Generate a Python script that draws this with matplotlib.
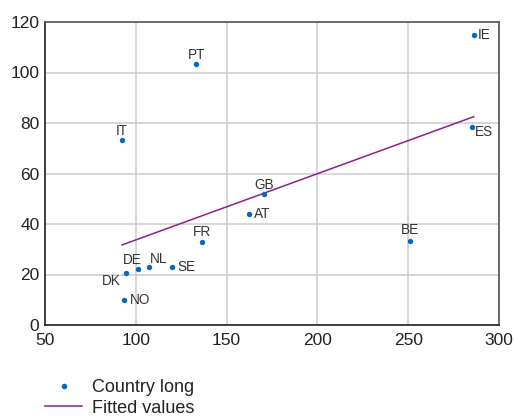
import matplotlib
matplotlib.use("Agg")
import matplotlib.pyplot as plt
from matplotlib.lines import Line2D

plt.rcParams['font.family'] = ['Liberation Sans', 'DejaVu Sans']

countries = ["IE", "PT", "IT", "ES", "GB", "AT", "FR", "BE", "DE", "NL", "SE", "DK", "NO"]
x_vals = [286.1, 133.3, 92.4, 285.0, 170.8, 162.5, 136.6, 250.8, 101.2, 107.3, 119.9, 94.4, 93.5]
y_vals = [114.9, 103.5, 73.4, 78.4, 52.0, 43.8, 33.0, 33.4, 22.2, 23.0, 22.8, 20.5, 9.9]
fit_x = [92.4, 286.1]
fit_y = [31.7, 82.5]
x_ticks = [50, 100, 150, 200, 250, 300]
y_ticks = [0, 20, 40, 60, 80, 100, 120]

# label placement: (dx px, dy px, ha, va)
label_pos = {
    "IE": (4, 0, 'left', 'center'),
    "ES": (3, -5, 'left', 'center'),
    "PT": (0, 5, 'center', 'baseline'),
    "IT": (0, 5, 'center', 'baseline'),
    "GB": (0, 5, 'center', 'baseline'),
    "FR": (0, 6, 'center', 'baseline'),
    "BE": (0, 7, 'center', 'baseline'),
    "DE": (-6, 5, 'center', 'baseline'),
    "NL": (1, 4, 'left', 'baseline'),
    "SE": (5, 0, 'left', 'center'),
    "AT": (5, 0, 'left', 'center'),
    "NO": (6, 0, 'left', 'center'),
    "DK": (-5, -8, 'right', 'center'),
}

dot_color = '#0a66b8'
fit_color = '#8c1f88'

fig = plt.figure(figsize=(5.15, 4.16), dpi=100)
ax = fig.add_axes([45/515, 1-325/416, (499-45)/515, (325-22)/416])

ax.plot(fit_x, fit_y, color=fit_color, lw=1.1, zorder=2)
ax.scatter(x_vals, y_vals, s=15, color=dot_color, zorder=3, linewidths=0)
for c, xv, yv in zip(countries, x_vals, y_vals):
    dx, dy, ha, va = label_pos[c]
    ax.annotate(c, (xv, yv), xytext=(dx, dy), textcoords='offset pixels',
                ha=ha, va=va, fontsize=9.8, color='#333333')

ax.set_xlim(50, 300)
ax.set_ylim(0, 120)
ax.set_xticks(x_ticks)
ax.set_yticks(y_ticks)
ax.grid(True, color='#cccccc', lw=1.1)
ax.set_axisbelow(True)
ax.tick_params(length=0, labelsize=12.5, colors='#222222', pad=4)
ax.tick_params(axis='x', pad=6)
for s in ['left', 'bottom']:
    ax.spines[s].set_color('#222222')
    ax.spines[s].set_linewidth(1.2)
for s in ['top', 'right']:
    ax.spines[s].set_color('#555555')
    ax.spines[s].set_linewidth(1.2)

handles = [
    Line2D([], [], marker='o', linestyle='none', markersize=4, color=dot_color, markeredgewidth=0),
    Line2D([], [], color=fit_color, lw=1.1),
]
fig.legend(handles, ["Country long", "Fitted values"], loc='upper left',
           bbox_to_anchor=(45/515, 1-379/416), frameon=False, borderpad=0,
           borderaxespad=0, handlelength=2.05, handletextpad=0.55,
           labelspacing=0.2, fontsize=13, labelcolor='#222222')

fig.savefig("out.png", dpi=100)
